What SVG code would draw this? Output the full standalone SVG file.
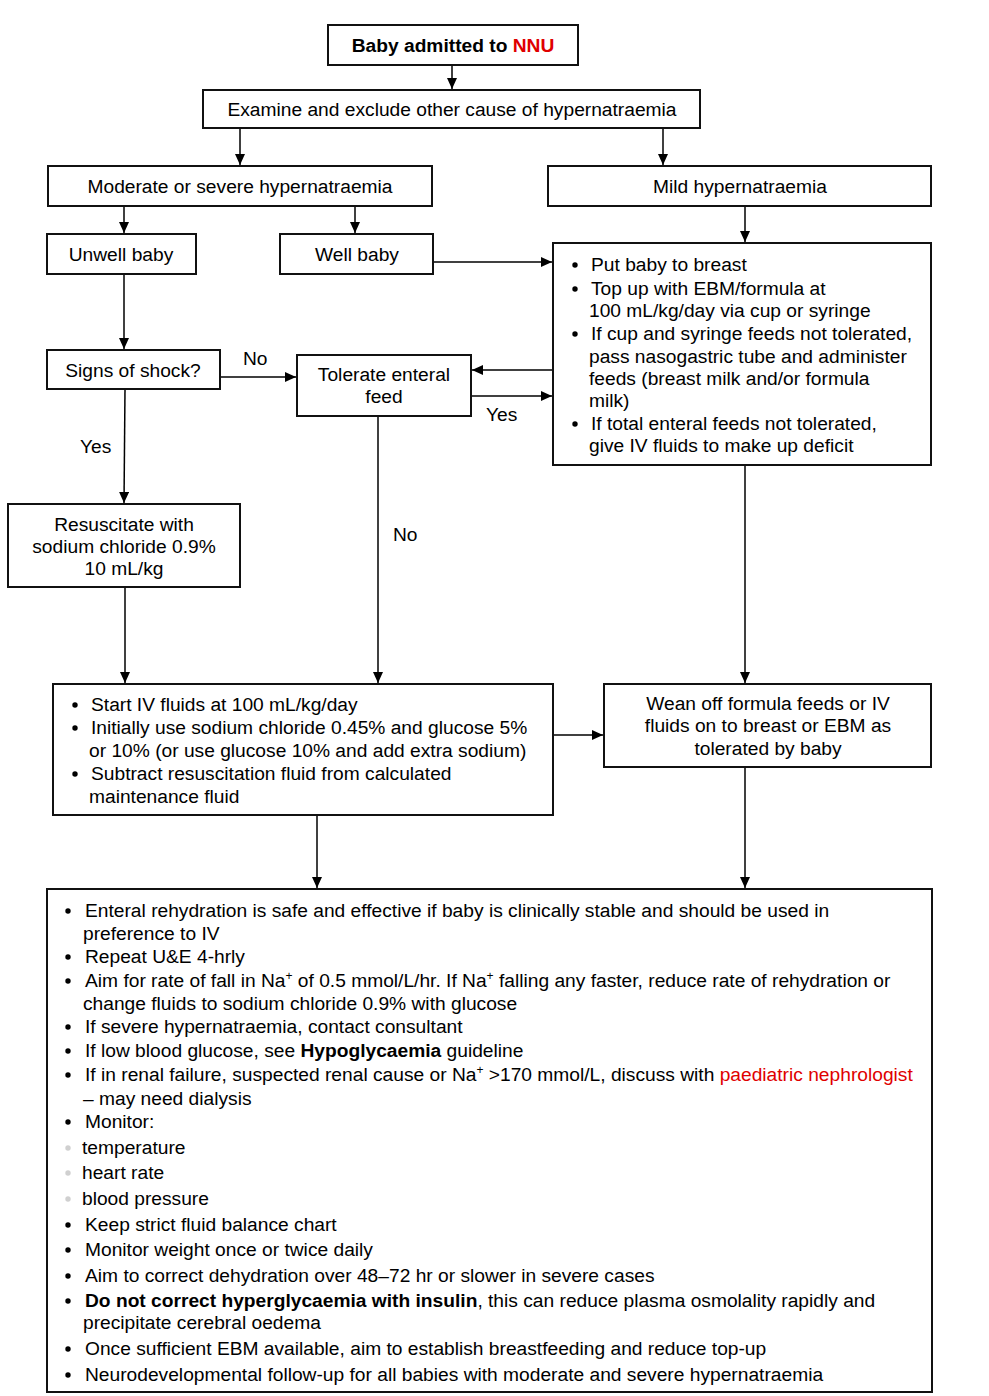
<svg xmlns="http://www.w3.org/2000/svg" width="989" height="1396" viewBox="0 0 989 1396">
<defs>
<marker id="ah" markerWidth="11" markerHeight="10" refX="11" refY="5" orient="auto" markerUnits="userSpaceOnUse">
<path d="M0,0 L11,5 L0,10 z" fill="#000"/>
</marker>
<style>
.box{fill:#fff;stroke:#111;stroke-width:2}
.t{font-family:"Liberation Sans",Arial,sans-serif;font-size:19.2px;fill:#000}
.c{text-anchor:middle}
.b{font-weight:bold}
.red{fill:#e00000}
.con{stroke:#000;stroke-width:1.5;fill:none;marker-end:url(#ah)}
.dot{fill:#000}
.gdot{fill:#d0d0d0}
</style>
</defs>
<rect width="989" height="1396" fill="#fff"/>

<g id="connectors">
<line class="con" x1="452" y1="65" x2="452" y2="89"/>
<line class="con" x1="240" y1="128" x2="240" y2="165"/>
<line class="con" x1="663" y1="128" x2="663" y2="165"/>
<line class="con" x1="124" y1="207" x2="124" y2="233"/>
<line class="con" x1="355" y1="207" x2="355" y2="233"/>
<line class="con" x1="745" y1="207" x2="745" y2="242"/>
<line class="con" x1="433" y1="262" x2="552" y2="262"/>
<line class="con" x1="124" y1="274" x2="124" y2="349"/>
<line class="con" x1="221" y1="377" x2="296" y2="377"/>
<line class="con" x1="553" y1="370" x2="472" y2="370"/>
<line class="con" x1="471" y1="396" x2="552" y2="396"/>
<line class="con" x1="125" y1="389" x2="124" y2="503"/>
<line class="con" x1="125" y1="587" x2="125" y2="683"/>
<line class="con" x1="378" y1="416" x2="378" y2="683"/>
<line class="con" x1="745" y1="465" x2="745" y2="683"/>
<line class="con" x1="553" y1="735" x2="603" y2="735"/>
<line class="con" x1="317" y1="815" x2="317" y2="888"/>
<line class="con" x1="745" y1="767" x2="745" y2="888"/>
<text class="t" x="243" y="365">No</text>
<text class="t" x="486" y="421">Yes</text>
<text class="t" x="80" y="453">Yes</text>
<text class="t" x="393" y="541">No</text>
</g>

<g id="n-admitted">
<rect class="box" x="328" y="25" width="250" height="40"/>
<text class="t c b" x="453" y="52">Baby admitted to <tspan class="red">NNU</tspan></text>
</g>

<g id="n-examine">
<rect class="box" x="203" y="90" width="497" height="38"/>
<text class="t c" x="452" y="116">Examine and exclude other cause of hypernatraemia</text>
</g>

<g id="n-moderate">
<rect class="box" x="48" y="166" width="384" height="40"/>
<text class="t c" x="240" y="193">Moderate or severe hypernatraemia</text>
</g>

<g id="n-mild">
<rect class="box" x="548" y="166" width="383" height="40"/>
<text class="t c" x="740" y="193">Mild hypernatraemia</text>
</g>

<g id="n-unwell">
<rect class="box" x="47" y="234" width="149" height="40"/>
<text class="t c" x="121" y="261">Unwell baby</text>
</g>

<g id="n-well">
<rect class="box" x="280" y="234" width="153" height="40"/>
<text class="t c" x="357" y="261">Well baby</text>
</g>

<g id="n-breast">
<rect class="box" x="553" y="243" width="378" height="222"/>
<circle class="dot" cx="575" cy="265" r="2.7"/>
<circle class="dot" cx="575" cy="289" r="2.7"/>
<circle class="dot" cx="575" cy="334" r="2.7"/>
<circle class="dot" cx="575" cy="424" r="2.7"/>
<text class="t" x="591" y="271">Put baby to breast</text>
<text class="t" x="591" y="295">Top up with EBM/formula at</text>
<text class="t" x="589" y="317">100 mL/kg/day via cup or syringe</text>
<text class="t" x="591" y="340">If cup and syringe feeds not tolerated,</text>
<text class="t" x="589" y="363">pass nasogastric tube and administer</text>
<text class="t" x="589" y="385">feeds (breast milk and/or formula</text>
<text class="t" x="589" y="407">milk)</text>
<text class="t" x="591" y="430">If total enteral feeds not tolerated,</text>
<text class="t" x="589" y="452">give IV fluids to make up deficit</text>
</g>

<g id="n-shock">
<rect class="box" x="47" y="350" width="173" height="39"/>
<text class="t c" x="133" y="377">Signs of shock?</text>
</g>

<g id="n-tolerate">
<rect class="box" x="297" y="355" width="174" height="61"/>
<text class="t c" x="384" y="381">Tolerate enteral</text>
<text class="t c" x="384" y="403">feed</text>
</g>

<g id="n-resus">
<rect class="box" x="8" y="504" width="232" height="83"/>
<text class="t c" x="124" y="531">Resuscitate with</text>
<text class="t c" x="124" y="553">sodium chloride 0.9%</text>
<text class="t c" x="124" y="575">10 mL/kg</text>
</g>

<g id="n-iv">
<rect class="box" x="53" y="684" width="500" height="131"/>
<circle class="dot" cx="75" cy="705" r="2.7"/>
<circle class="dot" cx="75" cy="728" r="2.7"/>
<circle class="dot" cx="75" cy="774" r="2.7"/>
<text class="t" x="91" y="711">Start IV fluids at 100 mL/kg/day</text>
<text class="t" x="91" y="734">Initially use sodium chloride 0.45% and glucose 5%</text>
<text class="t" x="89" y="757">or 10% (or use glucose 10% and add extra sodium)</text>
<text class="t" x="91" y="780">Subtract resuscitation fluid from calculated</text>
<text class="t" x="89" y="803">maintenance fluid</text>
</g>

<g id="n-wean">
<rect class="box" x="604" y="684" width="327" height="83"/>
<text class="t c" x="768" y="710">Wean off formula feeds or IV</text>
<text class="t c" x="768" y="732">fluids on to breast or EBM as</text>
<text class="t c" x="768" y="755">tolerated by baby</text>
</g>

<g id="n-notes">
<rect class="box" x="47" y="889" width="885" height="503"/>
<circle class="dot" cx="68" cy="911" r="2.7"/>
<circle class="dot" cx="68" cy="957" r="2.7"/>
<circle class="dot" cx="68" cy="981" r="2.7"/>
<circle class="dot" cx="68" cy="1027" r="2.7"/>
<circle class="dot" cx="68" cy="1051" r="2.7"/>
<circle class="dot" cx="68" cy="1075" r="2.7"/>
<circle class="dot" cx="68" cy="1122" r="2.7"/>
<circle class="gdot" cx="68" cy="1148" r="2.7"/>
<circle class="gdot" cx="68" cy="1173" r="2.7"/>
<circle class="gdot" cx="68" cy="1199" r="2.7"/>
<circle class="dot" cx="68" cy="1225" r="2.7"/>
<circle class="dot" cx="68" cy="1250" r="2.7"/>
<circle class="dot" cx="68" cy="1276" r="2.7"/>
<circle class="dot" cx="68" cy="1301" r="2.7"/>
<circle class="dot" cx="68" cy="1349" r="2.7"/>
<circle class="dot" cx="68" cy="1375" r="2.7"/>
<text class="t" x="85" y="917">Enteral rehydration is safe and effective if baby is clinically stable and should be used in</text>
<text class="t" x="83" y="940">preference to IV</text>
<text class="t" x="85" y="963">Repeat U&amp;E 4-hrly</text>
<text class="t" x="85" y="987">Aim for rate of fall in Na<tspan font-size="12" dy="-7">+</tspan><tspan dy="7"> of 0.5 mmol/L/hr. If Na</tspan><tspan font-size="12" dy="-7">+</tspan><tspan dy="7"> falling any faster, reduce rate of rehydration or</tspan></text>
<text class="t" x="83" y="1010">change fluids to sodium chloride 0.9% with glucose</text>
<text class="t" x="85" y="1033">If severe hypernatraemia, contact consultant</text>
<text class="t" x="85" y="1057">If low blood glucose, see <tspan class="b">Hypoglycaemia</tspan> guideline</text>
<text class="t" x="85" y="1081">If in renal failure, suspected renal cause or Na<tspan font-size="12" dy="-7">+</tspan><tspan dy="7"> &gt;170 mmol/L, discuss with </tspan><tspan class="red">paediatric nephrologist</tspan></text>
<text class="t" x="83" y="1105">– may need dialysis</text>
<text class="t" x="85" y="1128">Monitor:</text>
<text class="t" x="82" y="1154">temperature</text>
<text class="t" x="82" y="1179">heart rate</text>
<text class="t" x="82" y="1205">blood pressure</text>
<text class="t" x="85" y="1231">Keep strict fluid balance chart</text>
<text class="t" x="85" y="1256">Monitor weight once or twice daily</text>
<text class="t" x="85" y="1282">Aim to correct dehydration over 48–72 hr or slower in severe cases</text>
<text class="t" x="85" y="1307"><tspan class="b">Do not correct hyperglycaemia with insulin</tspan>, this can reduce plasma osmolality rapidly and</text>
<text class="t" x="83" y="1329">precipitate cerebral oedema</text>
<text class="t" x="85" y="1355">Once sufficient EBM available, aim to establish breastfeeding and reduce top-up</text>
<text class="t" x="85" y="1381">Neurodevelopmental follow-up for all babies with moderate and severe hypernatraemia</text>
</g>
</svg>
